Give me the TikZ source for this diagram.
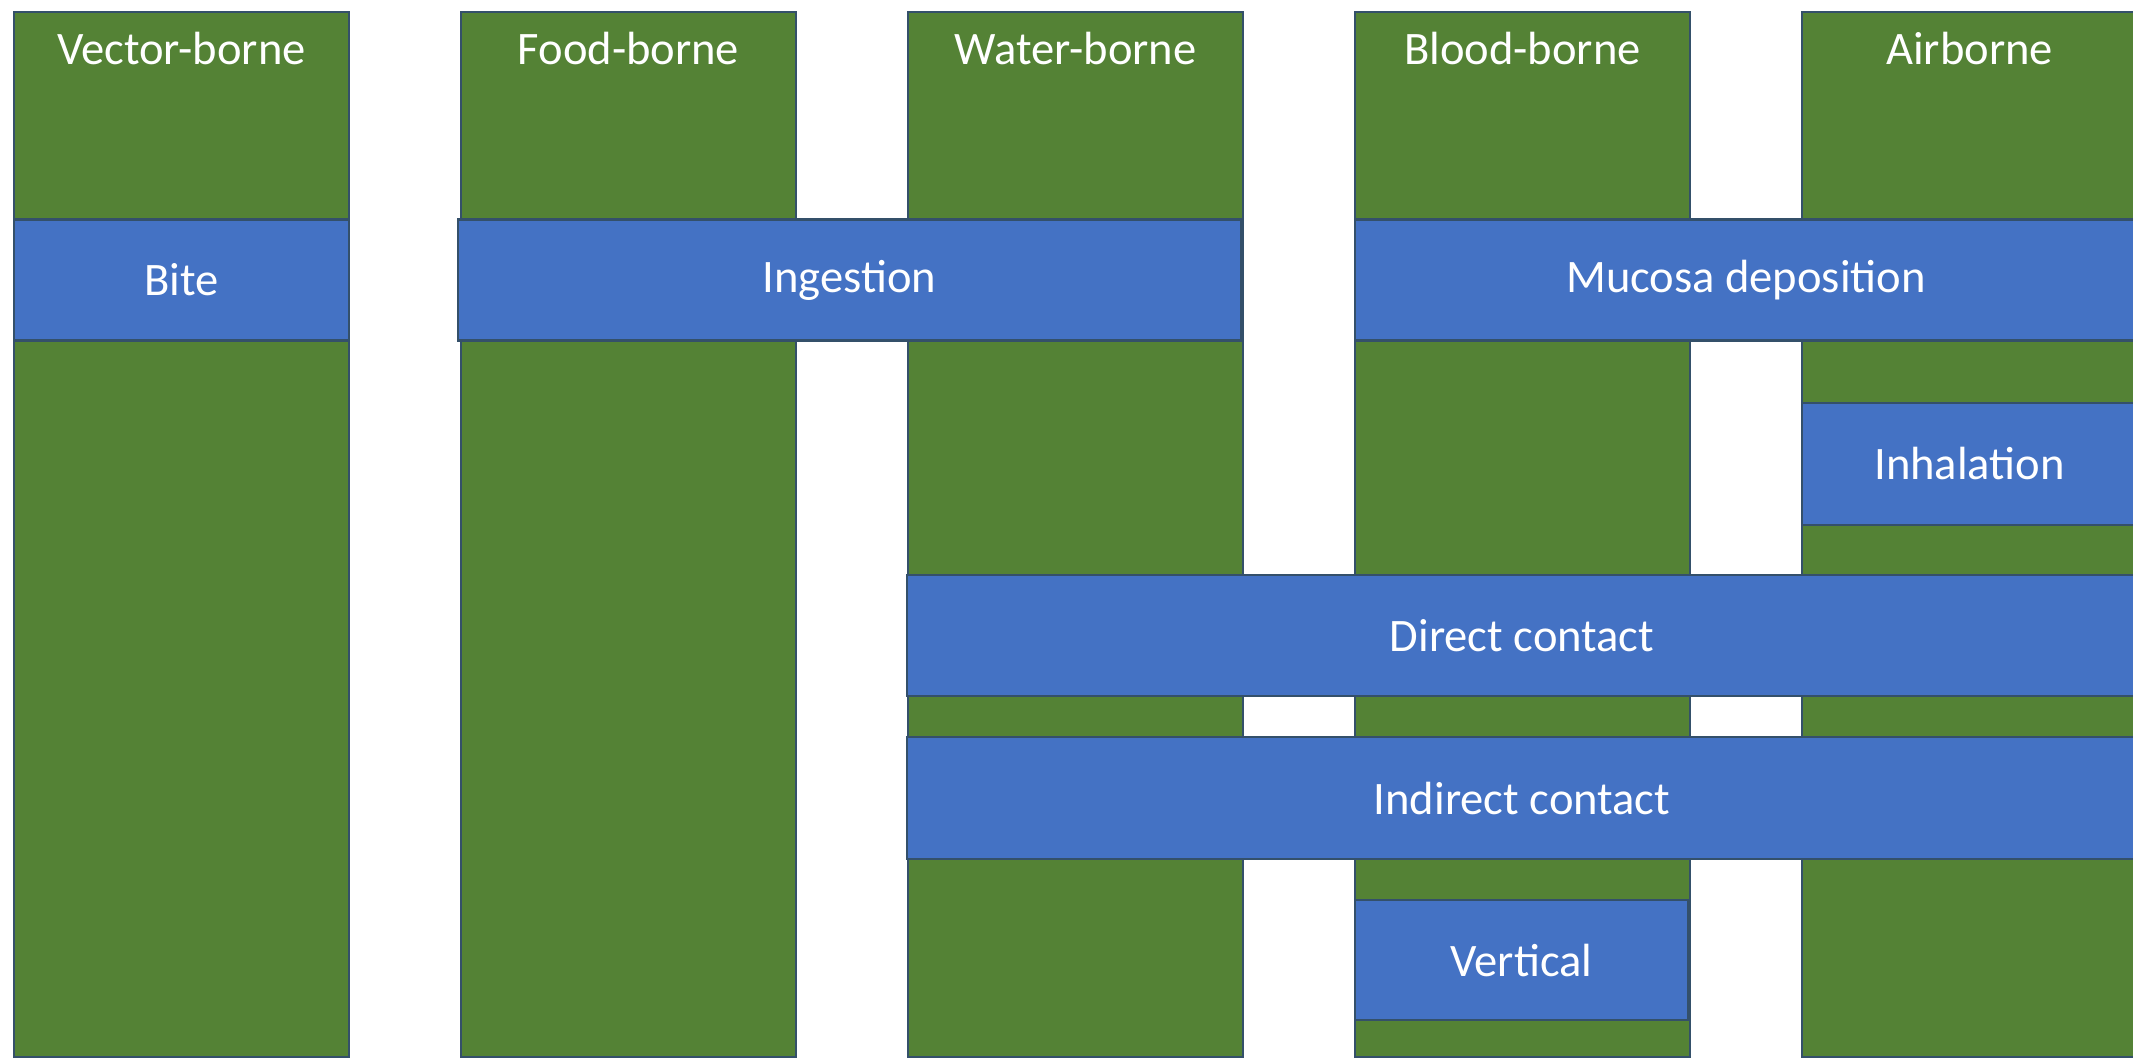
\documentclass[tikz,border=0pt]{standalone}
\usepackage{fontspec}
\setmainfont{Carlito}
\definecolor{colgreen}{HTML}{548235}
\definecolor{bandblue}{HTML}{4472C4}
\definecolor{edge}{HTML}{34506A}
\tikzset{
  px/.style={x=0.02cm,y=-0.02cm},
  col/.style={draw=edge, line width=0.05cm, fill=colgreen, inner sep=0pt, minimum width=6.7cm, minimum height=20.9cm},
  band/.style={draw=edge, line width=0.05cm, fill=bandblue, inner sep=0pt, text=white, font=\fontsize{26.5}{30}\selectfont},
  hdr/.style={text=white, inner sep=0pt, font=\fontsize{26.5}{30}\selectfont}
}
\begin{document}
\begin{tikzpicture}[px]
\clip (0,0) rectangle (2133,1058);
\fill[white] (0,0) rectangle (2133,1058);
% columns
\node[col] (vec) at (181.5,534.5) {};
\node[col] (food) at (628.5,534.5) {};
\node[col] (water) at (1075.5,534.5) {};
\node[col] (blood) at (1522.5,534.5) {};
\node[col] (air) at (1969.5,534.5) {};
% headers
\node[hdr] (tvec) at ([yshift=-0.76cm]vec.north) {Vector-borne};
\node[hdr] (tfood) at ([yshift=-0.76cm]food.north) {Food-borne};
\node[hdr] (twater) at ([yshift=-0.76cm]water.north) {Water-borne};
\node[hdr] (tblood) at ([yshift=-0.76cm]blood.north) {Blood-borne};
\node[hdr] (tair) at ([yshift=-0.76cm]air.north) {Airborne};
% bands
\node[band, minimum width=6.7cm, minimum height=2.42cm] (bite) at (181.5,280) {Bite};
\node[band, minimum width=15.66cm, minimum height=2.42cm] (ingest) at (849.5,280) {Ingestion};
\node[band, minimum width=15.64cm, minimum height=2.42cm] (mucosa) at (1746,280) {Mucosa deposition};
\node[band, minimum width=6.7cm, minimum height=2.44cm] (inhal) at (1969.5,464) {Inhalation};
\node[band, minimum width=24.6cm, minimum height=2.42cm] (direct) at (1522,635.5) {Direct contact};
\node[band, minimum width=24.6cm, minimum height=2.44cm] (indirect) at (1522,798) {Indirect contact};
\node[band, minimum width=6.66cm, minimum height=2.4cm] (vert) at (1521.5,960) {Vertical};
\end{tikzpicture}
\end{document}
